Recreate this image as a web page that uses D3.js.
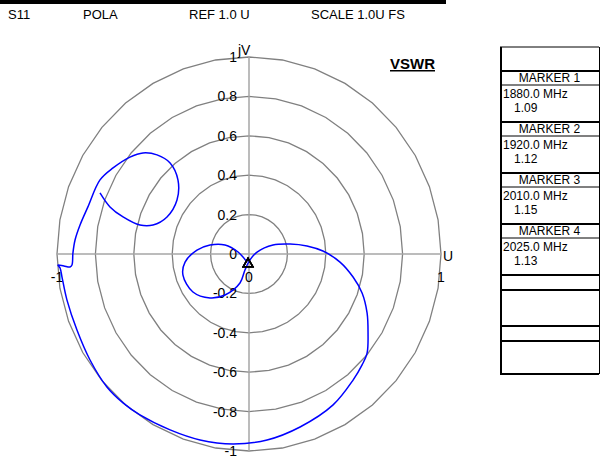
<!DOCTYPE html>
<html>
<head>
<meta charset="utf-8">
<script src="https://cdn.jsdelivr.net/npm/d3@7"></script>
<style>
  body { margin: 0; background: #fff; }
  svg { display: block; font-family: Arial, "Liberation Sans", sans-serif; }
</style>
</head>
<body>
<svg id="chart" width="600" height="462"></svg>
<script>
// header strip
const headerLabels = ['S11', 'POLA', 'REF 1.0 U', 'SCALE 1.0U FS'];
const headerX = [8, 83, 189, 311];

// polar grid
const ringValues = [0.2, 0.4, 0.6, 0.8, 1.0];
const vTicks = [1, 0.8, 0.6, 0.4, 0.2, 0, -0.2, -0.4, -0.6, -0.8, -1];
const uTicks = [-1, 0, 1];

const gammaRe = [-0.776, -0.724, -0.656, -0.568, -0.500, -0.427, -0.375, -0.370, -0.411, -0.479,
  -0.552, -0.620, -0.708, -0.776, -0.839, -0.880, -0.906, -0.917, -0.922, -0.932,
  -0.964, -0.995, -0.984, -0.974, -0.948, -0.896, -0.828, -0.740, -0.656, -0.568,
  -0.411, -0.255, -0.083, 0.094, 0.266, 0.438, 0.542, 0.589, 0.615, 0.620,
  0.615, 0.589, 0.542, 0.474, 0.385, 0.302, 0.214, 0.125, 0.042, 0.005,
  -0.021, -0.047, -0.125, -0.203, -0.292, -0.344, -0.333, -0.271, -0.203, -0.125,
  -0.057, -0.010];
const gammaIm = [0.310, 0.239, 0.188, 0.147, 0.147, 0.188, 0.274, 0.376, 0.462, 0.503,
  0.513, 0.492, 0.437, 0.376, 0.239, 0.147, 0.071, 0.005, -0.056, -0.066,
  -0.061, -0.056, -0.071, -0.117, -0.234, -0.386, -0.538, -0.675, -0.756, -0.817,
  -0.893, -0.944, -0.964, -0.944, -0.878, -0.766, -0.640, -0.563, -0.503, -0.401,
  -0.299, -0.198, -0.117, -0.041, 0.015, 0.041, 0.051, 0.046, 0.010, -0.030,
  -0.081, -0.147, -0.208, -0.223, -0.193, -0.107, -0.041, 0.020, 0.046, 0.046,
  0.010, -0.041];

// markers
const markerNames = ['MARKER 1', 'MARKER 2', 'MARKER 3', 'MARKER 4'];
const markerFreqs = ['1880.0 MHz', '1920.0 MHz', '2010.0 MHz', '2025.0 MHz'];
const markerVswr = ['1.09', '1.12', '1.15', '1.13'];
const markerRe = [-0.005, -0.005, -0.005, -0.005];
const markerIm = [-0.05, -0.05, -0.05, -0.05];

const svg = d3.select('#chart');

const x = d3.scaleLinear().domain([-1, 1]).range([57, 441]);
const y = d3.scaleLinear().domain([-1, 1]).range([451, 57]);

// header
svg.append('rect').attr('x', 0).attr('y', 0).attr('width', 446).attr('height', 4).attr('fill', '#000');
svg.selectAll('.hdr')
  .data(headerLabels)
  .enter()
  .append('text')
  .attr('class', 'hdr')
  .attr('x', (d, i) => headerX[i])
  .attr('y', 19)
  .attr('font-size', 13)
  .text(d => d);

// rings drawn as 36 sided polygons
const line = d3.line().x(d => x(d[0])).y(d => y(d[1]));
const ringPts = r => d3.range(0, 37).map(k => {
  const a = (k * 10) * Math.PI / 180;
  return [r * Math.cos(a), r * Math.sin(a)];
});

svg.append('g')
  .selectAll('path')
  .data(ringValues)
  .enter()
  .append('path')
  .attr('d', r => line(ringPts(r)))
  .attr('fill', 'none')
  .attr('stroke', '#808080')
  .attr('stroke-width', 1.3);

// axes
svg.append('line')
  .attr('x1', x(-1)).attr('x2', x(1)).attr('y1', y(0)).attr('y2', y(0))
  .attr('stroke', '#a6a6a6').attr('stroke-width', 1.5);
svg.append('line')
  .attr('x1', x(0)).attr('x2', x(0)).attr('y1', y(1)).attr('y2', y(-1))
  .attr('stroke', '#a6a6a6').attr('stroke-width', 1.5);

// V labels on the left of the vertical axis
svg.selectAll('.vtick')
  .data(vTicks)
  .enter()
  .append('text')
  .attr('class', 'vtick')
  .attr('x', x(0) - 12)
  .attr('y', d => y(d))
  .attr('dy', '0.36em')
  .attr('text-anchor', 'end')
  .attr('font-size', 14)
  .text(d => d);

svg.selectAll('.utick')
  .data(uTicks)
  .enter()
  .append('text')
  .attr('class', 'utick')
  .attr('x', d => x(d))
  .attr('y', y(0) + 23)
  .attr('dy', '0.36em')
  .attr('text-anchor', 'middle')
  .attr('font-size', 14)
  .text(d => d);

svg.append('text').attr('x', x(0) - 11).attr('y', y(1) - 2).attr('font-size', 14).text('jV');
svg.append('text').attr('x', x(1) + 2).attr('y', y(0) + 2).attr('dy', '0.36em').attr('font-size', 14).text('U');

svg.append('text')
  .attr('x', 390).attr('y', 69)
  .attr('font-size', 15).attr('font-weight', 'bold')
  .attr('text-decoration', 'underline')
  .text('VSWR');

// trace
const trace = gammaRe.map((u, i) => [u, gammaIm[i]]);
svg.append('path')
  .attr('d', line.curve(d3.curveCatmullRom.alpha(0.5))(trace))
  .attr('fill', 'none')
  .attr('stroke', '#0000ff')
  .attr('stroke-width', 1.5);
line.curve(d3.curveLinear);

// marker symbols
svg.selectAll('.mk')
  .data(markerRe)
  .enter()
  .append('path')
  .attr('class', 'mk')
  .attr('transform', (d, i) => `translate(${x(d)},${y(markerIm[i])})`)
  .attr('d', d3.symbol(d3.symbolTriangle).size(40))
  .attr('fill', 'none')
  .attr('stroke', '#000')
  .attr('stroke-width', 1.5);

// marker table
const TX = 500, TW = 99;
const rows = [{ h: 24, kind: 'blank' }];
markerNames.forEach((n, i) => {
  rows.push({ h: 14, kind: 'head', text: n });
  rows.push({ h: 37, kind: 'val', freq: markerFreqs[i], vswr: markerVswr[i] });
});
rows.push({ h: 15, kind: 'blank' }, { h: 36, kind: 'blank' }, { h: 15, kind: 'blank' }, { h: 33, kind: 'blank' });

const table = svg.append('g').attr('font-size', 12);
let ty = 47;
table.append('line').attr('x1', TX).attr('x2', TX + TW).attr('y1', ty).attr('y2', ty).attr('stroke', '#000');
rows.forEach(r => {
  if (r.kind === 'head') {
    table.append('text').attr('x', TX + TW / 2).attr('y', ty + r.h / 2).attr('dy', '0.36em')
      .attr('text-anchor', 'middle').text(r.text);
  } else if (r.kind === 'val') {
    table.append('text').attr('x', TX + 3).attr('y', ty + 9).attr('dy', '0.36em').text(r.freq);
    table.append('text').attr('x', TX + 14).attr('y', ty + 23).attr('dy', '0.36em').text(r.vswr);
  }
  ty += r.h;
  const thick = r.kind !== 'head';
  table.append('line').attr('x1', TX).attr('x2', TX + TW).attr('y1', ty).attr('y2', ty)
    .attr('stroke', '#000').attr('stroke-width', thick ? 2 : 1);
});
table.append('line').attr('x1', TX + 1).attr('x2', TX + 1).attr('y1', 47).attr('y2', ty).attr('stroke', '#000').attr('stroke-width', 2);
table.append('line').attr('x1', TX + TW + 0.5).attr('x2', TX + TW + 0.5).attr('y1', 47).attr('y2', ty).attr('stroke', '#000').attr('stroke-width', 1);
</script>
</body>
</html>
